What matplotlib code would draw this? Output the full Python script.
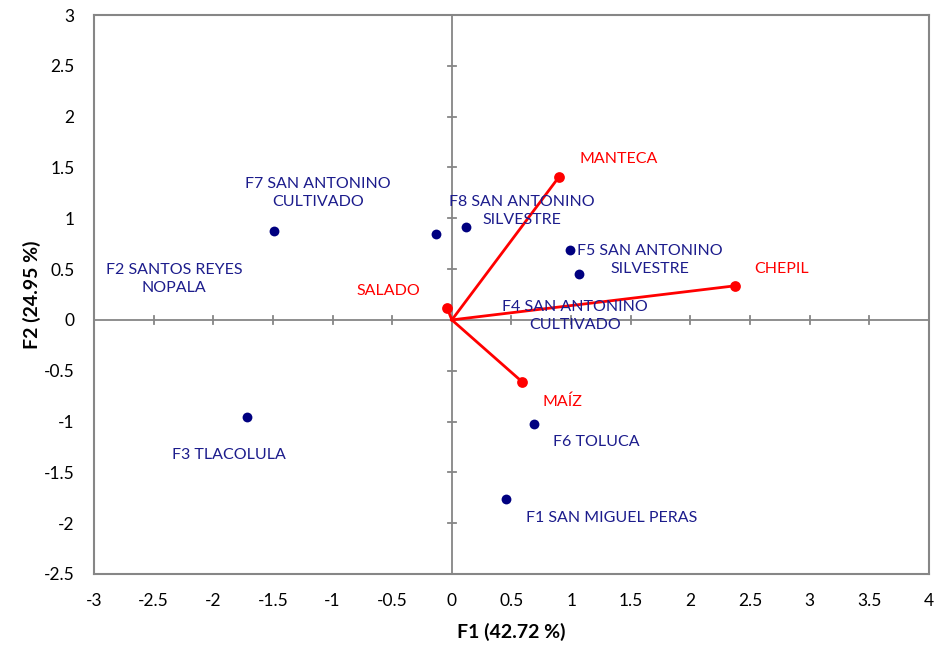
import matplotlib
matplotlib.use("Agg")
import matplotlib.pyplot as plt

plt.rcParams['font.family'] = ['Lato', 'DejaVu Sans']

# Observations (F1, F2 scores)
obs_names = ["F1 SAN MIGUEL PERAS", "F2 SANTOS REYES\nNOPALA", "F3 TLACOLULA",
             "F4 SAN ANTONINO\nCULTIVADO", "F5 SAN ANTONINO\nSILVESTRE", "F6 TOLUCA",
             "F7 SAN ANTONINO\nCULTIVADO", "F8 SAN ANTONINO\nSILVESTRE"]
obs_x = [0.45, -0.13, -1.72, 1.07, 0.99, 0.69, -1.49, 0.12]
obs_y = [-1.76, 0.85, -0.955, 0.45, 0.69, -1.02, 0.87, 0.91]
obs_label_x = [1.34, -2.33, -1.87, 1.03, 1.66, 1.21, -1.12, 0.59]
obs_label_y = [-1.95, 0.40, -1.33, 0.04, 0.59, -1.20, 1.25, 1.07]

# Variables (loadings)
var_names = ["MANTECA", "CHEPIL", "SALADO", "MAÍZ"]
var_x = [0.90, 2.37, -0.04, 0.59]
var_y = [1.41, 0.335, 0.12, -0.61]
var_label_x = [1.40, 2.76, -0.53, 0.93]
var_label_y = [1.58, 0.50, 0.285, -0.81]

x_ticks = [-3, -2.5, -2, -1.5, -1, -0.5, 0, 0.5, 1, 1.5, 2, 2.5, 3, 3.5, 4]
y_ticks = [-2.5, -2, -1.5, -1, -0.5, 0, 0.5, 1, 1.5, 2, 2.5, 3]

navy = "#000080"
label_navy = "#1c1c8c"
red = "#ff0000"
grey = "#868686"

fig = plt.figure(figsize=(9.51, 6.46), dpi=100)
ax = fig.add_axes([94/951, 1 - 574/646, (929-94)/951, (574-15)/646])
ax.set_xlim(-3, 4)
ax.set_ylim(-2.5, 3)

for s in ax.spines.values():
    s.set_color(grey)
    s.set_linewidth(1.5)

# central axes with crossing tick marks
ax.axhline(0, color=grey, lw=1.3, zorder=1)
ax.axvline(0, color=grey, lw=1.3, zorder=1)
tx = 0.035
ty = 0.04
for xv in x_ticks:
    if xv not in (-3, 4, 0):
        ax.plot([xv, xv], [-ty, ty], color=grey, lw=1.3, zorder=1)
for yv in y_ticks:
    if yv not in (-2.5, 3, 0):
        ax.plot([-tx, tx], [yv, yv], color=grey, lw=1.3, zorder=1)

ax.set_xticks(x_ticks)
ax.set_yticks(y_ticks)
ax.set_xticklabels([f"{v:g}" for v in x_ticks])
ax.set_yticklabels([f"{v:g}" for v in y_ticks])
ax.tick_params(length=0, labelsize=12.5)
ax.tick_params(axis="x", pad=14)
ax.tick_params(axis="y", pad=14)

# variable vectors
for vx, vy in zip(var_x, var_y):
    ax.plot([0, vx], [0, vy], color=red, lw=2, zorder=2)
ax.scatter(var_x, var_y, s=60, color=red, zorder=3, linewidths=0)
for n, lx, ly in zip(var_names, var_label_x, var_label_y):
    ax.text(lx, ly, n, color=red, fontsize=11.5, ha="center", va="center")

# observations
ax.scatter(obs_x, obs_y, s=50, color=navy, zorder=4, linewidths=0)
for n, lx, ly in zip(obs_names, obs_label_x, obs_label_y):
    ax.text(lx, ly, n, color=label_navy, fontsize=11.5, ha="center", va="center",
            linespacing=1.35)

ax.set_xlabel("F1 (42.72 %)", fontsize=14, fontweight="bold", labelpad=10)
ax.set_ylabel("F2 (24.95 %)", fontsize=14, fontweight="bold", labelpad=2)

fig.savefig("out.png", dpi=100)
